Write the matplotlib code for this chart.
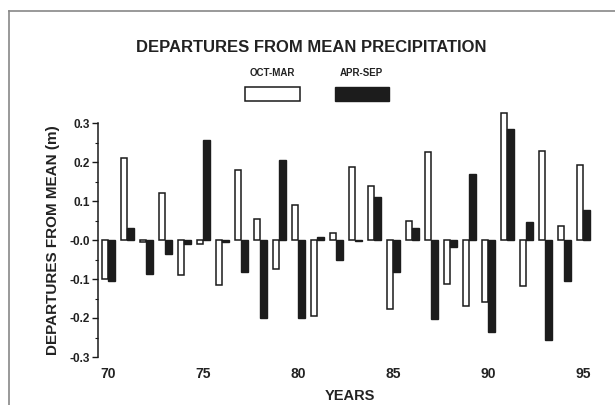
import matplotlib
matplotlib.use("Agg")
import matplotlib.pyplot as plt
import numpy as np
from matplotlib.patches import Rectangle
from matplotlib.lines import Line2D
from matplotlib.ticker import MultipleLocator

years = list(range(1970, 1996))
oct_mar = [-0.10, 0.21, -0.005, 0.12, -0.09, -0.01, -0.115, 0.18, 0.054, -0.075,
           0.09, -0.195, 0.017, 0.186, 0.139, -0.177, 0.049, 0.226, -0.114, -0.169,
           -0.158, 0.325, -0.117, 0.229, 0.037, 0.192]
apr_sep = [-0.105, 0.03, -0.087, -0.035, -0.011, 0.256, -0.005, -0.083, -0.199, 0.205,
           -0.20, 0.008, -0.051, -0.003, 0.111, -0.083, 0.03, -0.203, -0.017, 0.168,
           -0.235, 0.284, 0.047, -0.256, -0.105, 0.077]
yticks = [0.3, 0.2, 0.1, 0.0, -0.1, -0.2, -0.3]
ytick_labels = ["0.3", "0.2", "0.1", "-0.0", "-0.1", "-0.2", "-0.3"]
xticks = [70, 75, 80, 85, 90, 95]
xtick_labels = ["70", "75", "80", "85", "90", "95"]

plt.rcParams['font.family'] = ['Liberation Sans', 'DejaVu Sans']
plt.rcParams['font.weight'] = 'bold'
txt = '#222222'

fig = plt.figure(figsize=(6.15, 4.05), dpi=100)
ax = fig.add_axes([98/615, 1-357/405, (602.3-98)/615, (357-123)/405])

x = np.array(years) - 1900
w = 0.35
b1 = ax.bar(x - w/2, oct_mar, width=w, color='white', edgecolor='#1a1a1a', linewidth=1.1, zorder=2)
b2 = ax.bar(x + w/2, apr_sep, width=w, color='#1c1c1c', edgecolor='#1c1c1c', linewidth=1.0, zorder=3)
for p in list(b1) + list(b2):
    p.set_clip_on(False)

ax.set_xlim(69.46, 96)
ax.set_ylim(-0.3, 0.3)
for s in ['top', 'right', 'bottom']:
    ax.spines[s].set_visible(False)
ax.spines['left'].set_linewidth(1.1)
ax.spines['left'].set_color('#1a1a1a')

ax.set_yticks(yticks)
ax.set_yticklabels(ytick_labels, fontsize=8.5, fontweight='bold', color=txt)
ax.yaxis.set_minor_locator(MultipleLocator(0.05))
ax.tick_params(axis='y', which='major', length=4.5, width=1, pad=1, color='#1a1a1a')
ax.tick_params(axis='y', which='minor', length=2.5, width=0.8, color='#1a1a1a')
ax.set_xticks(xticks)
ax.set_xticklabels(xtick_labels, fontsize=10, fontweight='bold', color=txt)
ax.tick_params(axis='x', length=0, pad=7)

ax.set_ylabel("DEPARTURES FROM MEAN (m)", fontsize=11, fontweight='bold', color=txt, labelpad=7)
ax.set_xlabel("YEARS", fontsize=10.5, fontweight='bold', color=txt, labelpad=6)

fig.text(311/615, 1-47/405, "DEPARTURES FROM MEAN PRECIPITATION", ha='center', va='center',
         fontsize=12, fontweight='bold', color=txt)
fig.text(272/615, 1-73/405, "OCT-MAR", ha='center', va='center', fontsize=7, fontweight='bold', color=txt)
fig.text(361/615, 1-73/405, "APR-SEP", ha='center', va='center', fontsize=7, fontweight='bold', color=txt)
fig.patches.append(Rectangle((245/615, 1-101/405), 55/615, 14/405, transform=fig.transFigure,
                             facecolor='white', edgecolor='#1a1a1a', linewidth=1.1))
fig.patches.append(Rectangle((335/615, 1-101/405), 54/615, 14/405, transform=fig.transFigure,
                             facecolor='#1c1c1c', edgecolor='#1c1c1c', linewidth=1.0))

fig.lines.append(Line2D([9/615, 9/615], [0, 1-11/405], transform=fig.transFigure, color='#888888', linewidth=1.2))
fig.lines.append(Line2D([9/615, 1], [1-11/405, 1-11/405], transform=fig.transFigure, color='#888888', linewidth=1.2))

fig.savefig("out.png", dpi=100, facecolor='white')
